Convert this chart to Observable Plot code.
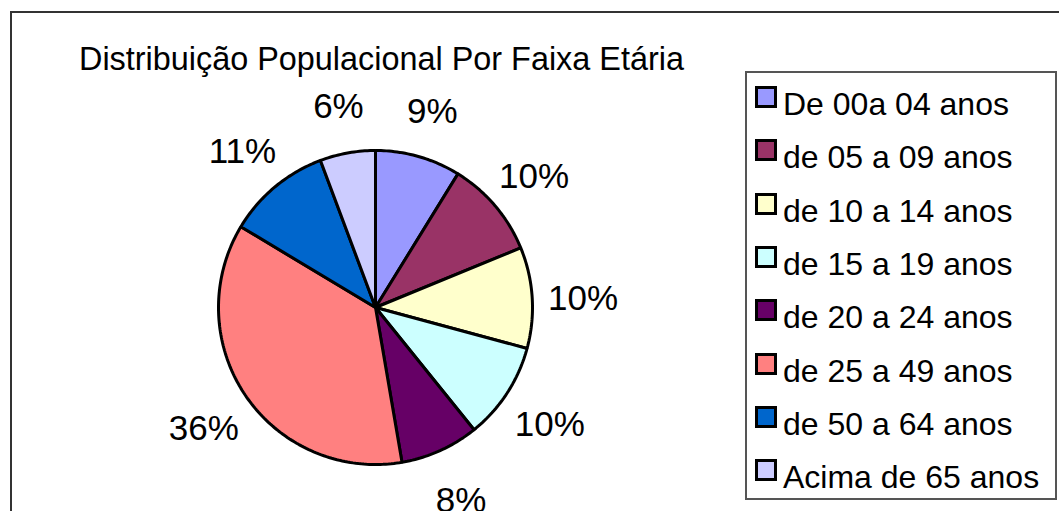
<!DOCTYPE html>
<html>
<head>
<meta charset="utf-8">
<script src="https://cdn.jsdelivr.net/npm/d3@7"></script>
<script src="https://cdn.jsdelivr.net/npm/@observablehq/plot@0.6"></script>
<style>
  html, body { margin: 0; padding: 0; background: #fff; }
  #chart { position: relative; width: 1059px; height: 511px; overflow: hidden; background: #fff;
           font-family: "Liberation Sans", Arial, sans-serif; color: #000; }
  #frame { position: absolute; left: 10px; top: 11px; width: 1200px; height: 700px;
           border-left: 2px solid #333; border-top: 2px solid #333; box-sizing: border-box; }
  #plot { position: absolute; left: 0; top: 0; }
  #title { position: absolute; left: 79px; top: 42.6px; font-size: 32.4px; line-height: 1; white-space: nowrap; }
  #legend { position: absolute; left: 745px; top: 71px; width: 312px; height: 429px;
            border: 2px solid #555; box-sizing: border-box; }
  .sw { position: absolute; width: 22px; height: 22px; border: 3px solid #000; box-sizing: border-box; }
  .lt { position: absolute; font-size: 32px; line-height: 1; white-space: nowrap; }
</style>
</head>
<body>
<div id="chart">
  <div id="frame"></div>
  <div id="plot"></div>
  <div id="title">Distribuição Populacional Por Faixa Etária</div>
  <div id="legend"></div>
</div>
<script>
// ---- data ----
const categories = ["De 00a 04 anos", "de 05 a 09 anos", "de 10 a 14 anos", "de 15 a 19 anos",
                    "de 20 a 24 anos", "de 25 a 49 anos", "de 50 a 64 anos", "Acima de 65 anos"];
const shares = [8.8, 10.0, 10.4, 10.0, 8.1, 36.3, 10.7, 5.7];
const colors = ["#9999FF", "#993366", "#FFFFCC", "#CCFFFF", "#660066", "#FF8080", "#0066CC", "#CCCCFF"];

// ---- layout ----
const W = 1059, H = 511;
const cx = 375, cy = 307, R = 157;     // pie centre and radius (px)
const labelR = 1.325;                    // label radius, in pie radii
const fontFamily = "Liberation Sans, Arial, sans-serif";

const total = d3.sum(shares);
const pieData = [];
const labelData = [];
let acc = 0;
categories.forEach((cat, i) => {
  const a0 = acc / total * 2 * Math.PI;
  acc += shares[i];
  const a1 = acc / total * 2 * Math.PI;
  const n = Math.max(2, Math.ceil((a1 - a0) / (Math.PI / 180)));
  pieData.push({cat, x: 0, y: 0});
  for (let k = 0; k <= n; k++) {
    const a = a0 + (a1 - a0) * k / n;
    pieData.push({cat, x: Math.sin(a), y: -Math.cos(a)});
  }
  pieData.push({cat, x: 0, y: 0});
  const am = (a0 + a1) / 2;
  labelData.push({cat, x: labelR * Math.sin(am), y: -labelR * Math.cos(am),
                  text: Math.round(shares[i] / total * 100) + "%"});
});

const plot = Plot.plot({
  width: W, height: H,
  margin: 0,
  style: {fontFamily, background: "transparent"},
  x: {domain: [-cx / R, (W - cx) / R], range: [0, W], axis: null},
  y: {domain: [-cy / R, (H - cy) / R], range: [0, H], axis: null},
  color: {domain: categories, range: colors},
  marks: [
    Plot.line(pieData, {x: "x", y: "y", z: "cat", fill: "cat", stroke: "#000",
                        strokeWidth: 3, strokeLinejoin: "miter", curve: "linear"}),
    Plot.text(labelData, {x: "x", y: "y", text: "text", fontSize: 35, fill: "#000", dy: 4,
                          fontFamily, textAnchor: "middle", lineAnchor: "middle"})
  ]
});
document.getElementById("plot").appendChild(plot);

// ---- legend ----
const chart = document.getElementById("chart");
const rowStep = 53.33;
categories.forEach((cat, i) => {
  const sw = document.createElement("div");
  sw.className = "sw";
  sw.style.left = "755px";
  sw.style.top = (86 + i * rowStep) + "px";
  sw.style.background = colors[i];
  chart.appendChild(sw);
  const t = document.createElement("div");
  t.className = "lt";
  t.style.left = "783px";
  t.style.top = (87.9 + i * rowStep) + "px";
  t.textContent = cat;
  chart.appendChild(t);
});
</script>
</body>
</html>
